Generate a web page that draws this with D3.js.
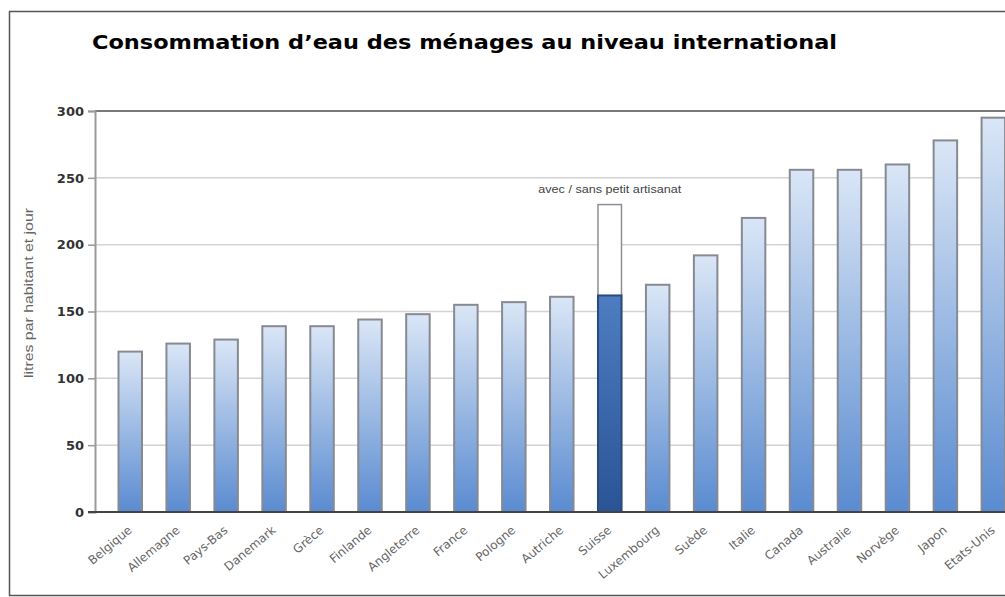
<!DOCTYPE html>
<html>
<head>
<meta charset="utf-8">
<script src="https://cdn.jsdelivr.net/npm/d3@7"></script>
<style>
    body { margin: 0; background: #fff; }
    .title { font-family: "DejaVu Sans", Verdana, sans-serif; font-weight: bold; font-size: 20px; fill: #000; }
    .y-tick { font-family: "DejaVu Sans", Verdana, sans-serif; font-weight: bold; font-size: 13px; fill: #333; }
    .x-label { font-family: "DejaVu Sans", sans-serif; font-size: 12px; fill: #666; }
    .y-title { font-family: "Liberation Sans Narrow", "Liberation Sans", sans-serif; font-size: 13px; fill: #666; }
    .note { font-family: "Liberation Sans Narrow", "Liberation Sans", sans-serif; font-size: 11px; fill: #444; }
</style>
</head>
<body>
<div id="chart"></div>
<script>
// data
var countries = ["Belgique", "Allemagne", "Pays-Bas", "Danemark", "Grèce", "Finlande", "Angleterre",
    "France", "Pologne", "Autriche", "Suisse", "Luxembourg", "Suède", "Italie", "Canada",
    "Australie", "Norvège", "Japon", "Etats-Unis"];
var litres = [120, 126, 129, 139, 139, 144, 148, 155, 157, 161, 162, 170, 192, 220, 256, 256, 260, 278, 295];
// Suisse with small trades included (outlined bar)
var suisseAvec = 230;
var yTicks = [0, 50, 100, 150, 200, 250, 300];

var width = 1005;
var height = 597;

var svg = d3.select("#chart")
    .append("svg")
    .attr("width", width)
    .attr("height", height);

// gradients for the bars
var defs = svg.append("defs");
var g1 = defs.append("linearGradient").attr("id", "barGrad")
    .attr("x1", 0).attr("y1", 0).attr("x2", 0).attr("y2", 1);
g1.append("stop").attr("offset", "0%").attr("stop-color", "#dae6f6");
g1.append("stop").attr("offset", "100%").attr("stop-color", "#5a8bd0");
var g2 = defs.append("linearGradient").attr("id", "darkGrad")
    .attr("x1", 0).attr("y1", 0).attr("x2", 0).attr("y2", 1);
g2.append("stop").attr("offset", "0%").attr("stop-color", "#4d7dc0");
g2.append("stop").attr("offset", "100%").attr("stop-color", "#2a5496");

// outer frame
svg.append("rect")
    .attr("x", 9.5).attr("y", 11.5)
    .attr("width", 1010).attr("height", 584)
    .attr("fill", "#fff")
    .attr("stroke", "#555")
    .attr("stroke-width", 1.5);

svg.append("text")
    .attr("class", "title")
    .attr("x", 92)
    .attr("y", 49)
    .attr("textLength", 745)
    .attr("lengthAdjust", "spacingAndGlyphs")
    .text("Consommation d\u2019eau des ménages au niveau international");

var x0 = 95;
var x = d3.scaleBand()
    .domain(countries)
    .range([x0, x0 + 47.9 * 19.49])
    .paddingInner(0.51)
    .paddingOuter(0.49);

var y = d3.scaleLinear()
    .domain([0, 300])
    .range([512, 111]);

// gridlines
svg.selectAll(".grid")
    .data(yTicks.filter(function (d) { return d > 0 && d < 300; }))
    .enter().append("line")
    .attr("class", "grid")
    .attr("x1", x0).attr("x2", width)
    .attr("y1", function (d) { return y(d); })
    .attr("y2", function (d) { return y(d); })
    .attr("stroke", "#d4d4d4")
    .attr("stroke-width", 1.5);

// top line of the plot
svg.append("line")
    .attr("x1", x0).attr("x2", width)
    .attr("y1", y(300)).attr("y2", y(300))
    .attr("stroke", "#7a7a7a")
    .attr("stroke-width", 2);

// left axis
var yAxis = svg.append("g")
    .attr("transform", "translate(" + x0 + ",0)")
    .call(d3.axisLeft(y).tickValues(yTicks).tickSize(7).tickPadding(4));
yAxis.select(".domain").attr("stroke", "#999").attr("stroke-width", 2);
yAxis.selectAll(".tick line").attr("stroke", "#999").attr("stroke-width", 1.5);
yAxis.selectAll(".tick text").attr("class", "y-tick").attr("fill", null);

// the Suisse outline bar behind its dark part
svg.append("rect")
    .attr("x", x("Suisse"))
    .attr("y", y(suisseAvec))
    .attr("width", x.bandwidth())
    .attr("height", y(0) - y(suisseAvec))
    .attr("fill", "#fff")
    .attr("stroke", "#8c8f96")
    .attr("stroke-width", 1.5);

svg.selectAll(".bar")
    .data(litres)
    .enter().append("rect")
    .attr("class", "bar")
    .attr("x", function (d, i) { return x(countries[i]); })
    .attr("y", function (d) { return y(d); })
    .attr("width", x.bandwidth())
    .attr("height", function (d) { return y(0) - y(d); })
    .attr("fill", function (d, i) { return countries[i] === "Suisse" ? "url(#darkGrad)" : "url(#barGrad)"; })
    .attr("stroke", function (d, i) { return countries[i] === "Suisse" ? "#2b4a7c" : "#878a92"; })
    .attr("stroke-width", 2);

// bottom axis line
svg.append("line")
    .attr("x1", x0 - 7).attr("x2", width)
    .attr("y1", y(0)).attr("y2", y(0))
    .attr("stroke", "#444")
    .attr("stroke-width", 2);

// rotated country names
svg.selectAll(".x-label")
    .data(countries)
    .enter().append("text")
    .attr("class", "x-label")
    .attr("text-anchor", "end")
    .attr("transform", function (d) {
        return "translate(" + (x(d) + x.bandwidth() / 2 - 3) + "," + 525 + ") rotate(-40)";
    })
    .attr("dy", "0.7em")
    .text(function (d) { return d; });

svg.append("text")
    .attr("class", "y-title")
    .attr("text-anchor", "middle")
    .attr("transform", "translate(33,293) rotate(-90)")
    .attr("textLength", 170)
    .attr("lengthAdjust", "spacingAndGlyphs")
    .text("litres par habitant et jour");

svg.append("text")
    .attr("class", "note")
    .attr("text-anchor", "middle")
    .attr("x", x("Suisse") + x.bandwidth() / 2)
    .attr("y", 193)
    .attr("textLength", 143)
    .attr("lengthAdjust", "spacingAndGlyphs")
    .text("avec / sans petit artisanat");
</script>
</body>
</html>
